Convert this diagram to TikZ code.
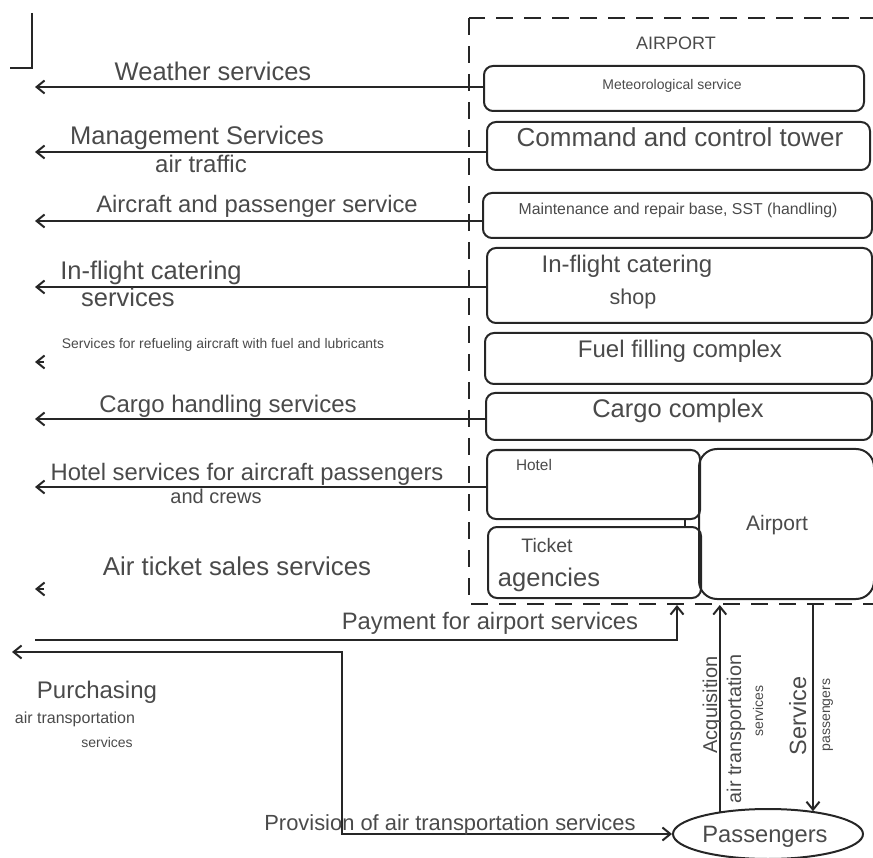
\documentclass[tikz,border=0pt]{standalone}
\usepackage{fontspec}
\setmainfont{Liberation Sans}
\usetikzlibrary{arrows.meta,shapes.geometric}
\definecolor{ink}{HTML}{262626}
\definecolor{txt}{HTML}{4A4A4A}
\begin{document}
\begin{tikzpicture}[x=1pt,y=-1pt,
  fs/.style={font=\fontsize{#1}{#1}\selectfont},
  lbl/.style={text=txt, inner sep=0pt, anchor=base},
  box/.style={draw=ink, line width=2pt, rounded corners=9pt, inner sep=0pt},
  tip/.tip={Straight Barb[length=8pt,width=13pt,line width=2pt]},
  flow/.style={draw=ink, line width=2.1pt, -tip},
  link/.style={draw=ink, line width=2.1pt},
  frame/.style={draw=ink, line width=2.6pt, dash pattern=on 17pt off 11pt},
]
\useasboundingbox (0,0) rectangle (873,858);
\clip (0,0) rectangle (873,858);

% corner bracket at the top left
\coordinate (b1) at (32,13);
\coordinate (b2) at (32,68);
\coordinate (b3) at (10,68);
\draw[link] (b1) -- (b2) -- (b3);

% airport boundary
\draw[frame] (469,18) rectangle (885,604);
\node[lbl, fs=18] (airportlbl) at (676,50) {AIRPORT};

% units inside the airport
\node[box, minimum width=380pt, minimum height=45pt] (met) at (674,88.5) {};
\node[box, minimum width=383pt, minimum height=48pt] (tower) at (678.5,146) {};
\node[box, minimum width=389pt, minimum height=45pt] (maint) at (677.5,215.5) {};
\node[box, minimum width=385pt, minimum height=75pt] (cater) at (679.5,285.5) {};
\node[box, minimum width=387pt, minimum height=51pt] (fuel) at (678.5,358.5) {};
\node[box, minimum width=386pt, minimum height=47pt] (cargo) at (679,416.5) {};
\node[box, minimum width=213pt, minimum height=69pt] (hotel) at (593.5,484.5) {};
\node[box, minimum width=213pt, minimum height=71pt] (ticket) at (594.5,562.5) {};
\node[box, rounded corners=18pt, minimum width=175pt, minimum height=150pt] (apt) at (786.5,524) {};

\node[lbl, fs=14] (mett) at (672,90) {Meteorological service};
\node[lbl, fs=26] (towert) at (680,147) {Command and control tower};
\node[lbl, fs=15.8] (maintt) at (678,215) {Maintenance and repair base, SST (handling)};
\node[lbl, fs=24] (catert1) at (627,273) {In-flight catering};
\node[lbl, fs=21.5] (catert2) at (633,305) {shop};
\node[lbl, fs=24] (fuelt) at (680,358) {Fuel filling complex};
\node[lbl, fs=25.5] (cargot) at (678,418) {Cargo complex};
\node[lbl, fs=15.4] (hotelt) at (534,471) {Hotel};
\node[lbl, fs=19.5] (tickt1) at (547,552) {Ticket};
\node[lbl, fs=25.5] (tickt2) at (549,586) {agencies};
\node[lbl, fs=21] (aptt) at (777,530) {Airport};

% link between hotel and ticket agencies
\coordinate (tk) at (685,0);
\draw[link, line width=1.6pt] (hotel.south -| tk) -- (ticket.north -| tk);

% services delivered outward
\coordinate (e1) at (35,87);
\coordinate (e2) at (35,152);
\coordinate (e3) at (35,221);
\coordinate (e4) at (35,287);
\coordinate (e6) at (35,419);
\coordinate (e7) at (35,487);
\draw[flow] (met.west |- e1) -- (e1);
\draw[flow] (tower.west |- e2) -- (e2);
\draw[flow] (maint.west |- e3) -- (e3);
\draw[flow] (cater.west |- e4) -- (e4);
\draw[flow] (cargo.west |- e6) -- (e6);
\draw[flow] (hotel.west |- e7) -- (e7);

\coordinate (f0) at (44,362);
\coordinate (e5) at (35,362);
\draw[flow] (f0) -- (e5);
\coordinate (t0) at (44,589);
\coordinate (e8) at (35,589);
\draw[flow] (t0) -- (e8);

\node[lbl, fs=25.5] (l1) at (213,81) {Weather services};
\node[lbl, fs=25.5] (l2a) at (197,145) {Management Services};
\node[lbl, fs=24] (l2b) at (201,173) {air traffic};
\node[lbl, fs=23.8] (l3) at (257,213) {Aircraft and passenger service};
\node[lbl, fs=25.5] (l4a) at (151,280) {In-flight catering};
\node[lbl, fs=25.5] (l4b) at (128,307) {services};
\node[lbl, fs=13.9] (l5) at (223,349) {Services for refueling aircraft with fuel and lubricants};
\node[lbl, fs=24] (l6) at (228,413) {Cargo handling services};
\node[lbl, fs=23.8] (l7a) at (247,480) {Hotel services for aircraft passengers};
\node[lbl, fs=20] (l7b) at (216,503) {and crews};
\node[lbl, fs=25.8] (l8) at (237,575) {Air ticket sales services};

% passengers and flows at the bottom
\node[draw=ink, line width=2pt, ellipse, inner sep=0pt, minimum width=190pt, minimum height=50pt] (pass) at (768,834) {};
\node[lbl, fs=23.7] (passt) at (765,842) {Passengers};

\coordinate (p0) at (35,640);
\coordinate (p1) at (677,605);
\draw[flow] (p0) -| (p1);
\node[lbl, fs=23.8] (lpay) at (490,629) {Payment for airport services};

\coordinate (q0) at (12,652);
\coordinate (q1) at (342,652);
\draw[link, tip-tip] (q0) -- (q1) |- (pass.west);
\node[lbl, fs=21.9] (lprov) at (450,830) {Provision of air transportation services};
\node[lbl, fs=24] (lpur1) at (97,698) {Purchasing};
\node[lbl, fs=16] (lpur2) at (75,723) {air transportation};
\node[lbl, fs=14] (lpur3) at (107,747) {services};

\coordinate (acqTop) at (721,605);
\draw[flow] (pass.155) -- (pass.155 |- acqTop);
\coordinate (srvTop) at (813,604);
\draw[flow] (srvTop) -- (srvTop |- pass.26);

\node[lbl, fs=20, rotate=90] (lacq1) at (717,705) {Acquisition};
\node[lbl, fs=19.8, rotate=90] (lacq2) at (741,729) {air transportation};
\node[lbl, fs=14, rotate=90] (lacq3) at (763,711) {services};
\node[lbl, fs=23.5, rotate=90] (lsrv1) at (806,716) {Service};
\node[lbl, fs=14, rotate=90] (lsrv2) at (830,715) {passengers};
\end{tikzpicture}
\end{document}
